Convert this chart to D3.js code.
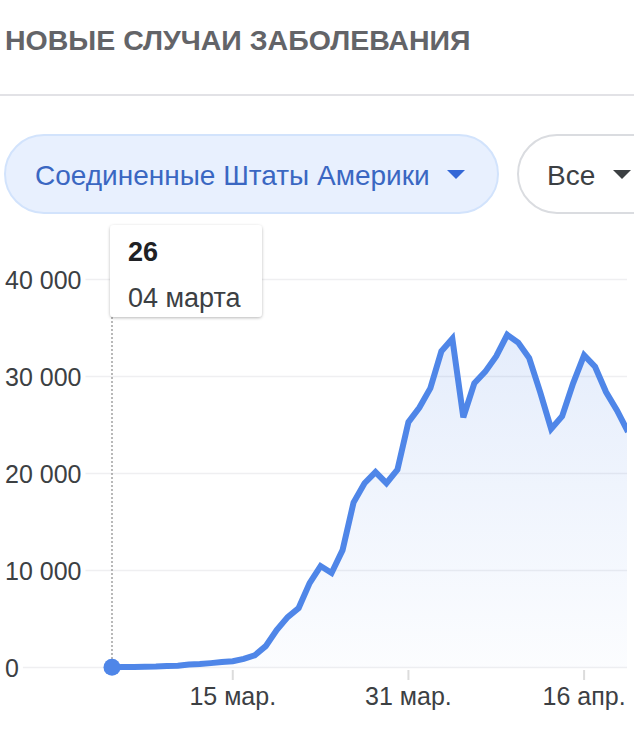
<!DOCTYPE html>
<html>
<head>
<meta charset="utf-8">
<script src="https://cdn.jsdelivr.net/npm/d3@7"></script>
<style>
  html, body { margin: 0; padding: 0; background: #fff; }
  svg { display: block; font-family: "Liberation Sans", Arial, sans-serif; }
</style>
</head>
<body>
<svg class="chart"></svg>
<script>
// Data: daily new cases, USA
var dates = ["2020-03-04","2020-03-05","2020-03-06","2020-03-07","2020-03-08","2020-03-09",
  "2020-03-10","2020-03-11","2020-03-12","2020-03-13","2020-03-14","2020-03-15","2020-03-16",
  "2020-03-17","2020-03-18","2020-03-19","2020-03-20","2020-03-21","2020-03-22","2020-03-23",
  "2020-03-24","2020-03-25","2020-03-26","2020-03-27","2020-03-28","2020-03-29","2020-03-30",
  "2020-03-31","2020-04-01","2020-04-02","2020-04-03","2020-04-04","2020-04-05","2020-04-06",
  "2020-04-07","2020-04-08","2020-04-09","2020-04-10","2020-04-11","2020-04-12","2020-04-13",
  "2020-04-14","2020-04-15","2020-04-16","2020-04-17","2020-04-18","2020-04-19","2020-04-20"];
var newCases = [26, 40, 60, 80, 100, 150,
  170, 300, 350, 450, 560, 650, 880,
  1250, 2200, 3870, 5200, 6130, 8700, 10460,
  9740, 12100, 17000, 19000, 20150, 19000, 20400,
  25300, 26800, 28800, 32600, 33900, 25800, 29300,
  30500, 32100, 34300, 33500, 31900, 28400, 24600,
  25900, 29300, 32200, 31000, 28400, 26500, 24300];
var yTicks = [0, 10000, 20000, 30000, 40000];
var xTicks = ["2020-03-15", "2020-03-31", "2020-04-16"];
var xTickLabels = ["15 мар.", "31 мар.", "16 апр."];

var title = "НОВЫЕ СЛУЧАИ ЗАБОЛЕВАНИЯ";
var countryLabel = "Соединенные Штаты Америки";
var rangeLabel = "Все";
var tipValue = "26";
var tipDate = "04 марта";

var W = 634, H = 735;
var blue = "#4f86e8";
var parse = d3.timeParse("%Y-%m-%d");
var data = dates.map(function(d, i) { return {date: parse(d), value: newCases[i]}; });

var svg = d3.select(".chart").attr("width", W).attr("height", H);

var defs = svg.append("defs");
var shadow = defs.append("filter").attr("id", "shadow")
    .attr("x", "-20%").attr("y", "-20%").attr("width", "140%").attr("height", "150%");
shadow.append("feDropShadow").attr("dx", 0).attr("dy", 1).attr("stdDeviation", 1.6)
    .attr("flood-color", "#000").attr("flood-opacity", 0.28);

var grad = defs.append("linearGradient").attr("id", "areaGrad")
    .attr("gradientUnits", "userSpaceOnUse")
    .attr("x1", 0).attr("x2", 0).attr("y1", 280).attr("y2", 668);
grad.append("stop").attr("offset", "0%").attr("stop-color", blue).attr("stop-opacity", 0.17);
grad.append("stop").attr("offset", "100%").attr("stop-color", blue).attr("stop-opacity", 0.02);

defs.append("clipPath").attr("id", "plotClip")
  .append("rect").attr("x", 0).attr("y", 0).attr("width", 627).attr("height", H);

// Header
svg.append("text")
    .attr("x", 5).attr("y", 50)
    .attr("font-size", 28.5).attr("font-weight", "bold")
    .attr("fill", "#636468")
    .text(title);

svg.append("line")
    .attr("x1", 0).attr("x2", W).attr("y1", 95).attr("y2", 95)
    .attr("stroke", "#e2e2e6").attr("stroke-width", 2);

// Chips
svg.append("rect")
    .attr("x", 5).attr("y", 135).attr("width", 493).attr("height", 78).attr("rx", 39)
    .attr("fill", "#e8f0fe").attr("stroke", "#d2e3fc").attr("stroke-width", 2);
svg.append("text")
    .attr("x", 35).attr("y", 185)
    .attr("font-size", 28).attr("fill", "#3a67c2")
    .text(countryLabel);
svg.append("path")
    .attr("d", "M447,170 L465,170 L456,179 Z")
    .attr("fill", "#3367d6");

svg.append("rect")
    .attr("x", 518).attr("y", 135).attr("width", 200).attr("height", 78).attr("rx", 39)
    .attr("fill", "#fff").attr("stroke", "#dadce0").attr("stroke-width", 2);
svg.append("text")
    .attr("x", 547).attr("y", 185)
    .attr("font-size", 28).attr("fill", "#3c4043")
    .text(rangeLabel);
svg.append("path")
    .attr("d", "M613,170 L631,170 L622,179 Z")
    .attr("fill", "#3c4043");

// Scales
var x = d3.scaleTime()
    .domain(d3.extent(data, function(d) { return d.date; }))
    .range([112, 628]);
var y = d3.scaleLinear()
    .domain([0, 40000])
    .range([667.5, 279.5]);

// Y axis: labels on the left, gridlines start after each label
var yAxis = svg.append("g").attr("class", "y axis");
yTicks.forEach(function(t) {
  var label = yAxis.append("text")
      .attr("x", 5).attr("y", y(t) + 9)
      .attr("font-size", 25).attr("fill", "#3c4043")
      .text(d3.format(",")(t).replace(/,/g, " "));
  var end = 5 + label.node().getComputedTextLength();
  yAxis.insert("line", "text")
      .attr("x1", end + 4).attr("x2", 627)
      .attr("y1", y(t)).attr("y2", y(t))
      .attr("stroke", "#efeff1").attr("stroke-width", 1.5);
});

// X axis ticks
var xAxis = svg.append("g").attr("class", "x axis");
xTicks.forEach(function(t, i) {
  var px = x(parse(t));
  xAxis.append("line")
      .attr("x1", px).attr("x2", px).attr("y1", 670).attr("y2", 680)
      .attr("stroke", "#dcdcdc").attr("stroke-width", 2);
  xAxis.append("text")
      .attr("x", px).attr("y", 705)
      .attr("text-anchor", "middle")
      .attr("font-size", 25).attr("fill", "#3c4043")
      .text(xTickLabels[i]);
});

// Area + line
var plot = svg.append("g").attr("clip-path", "url(#plotClip)");

var area = d3.area()
    .x(function(d) { return x(d.date); })
    .y0(y(0))
    .y1(function(d) { return y(d.value); });
plot.append("path").datum(data)
    .attr("d", area)
    .attr("fill", "url(#areaGrad)");

var line = d3.line()
    .x(function(d) { return x(d.date); })
    .y(function(d) { return y(d.value); });
plot.append("path").datum(data)
    .attr("d", line)
    .attr("fill", "none")
    .attr("stroke", blue)
    .attr("stroke-width", 6)
    .attr("stroke-linejoin", "miter");

// Hover marker on first point
var first = data[0];
svg.append("line")
    .attr("x1", x(first.date)).attr("x2", x(first.date))
    .attr("y1", 317).attr("y2", y(first.value) - 8)
    .attr("stroke", "#8a8a8a").attr("stroke-width", 1.2)
    .attr("stroke-dasharray", "2,2");
svg.append("circle")
    .attr("cx", x(first.date)).attr("cy", y(first.value))
    .attr("r", 8.5)
    .attr("fill", blue);

// Tooltip
var tip = svg.append("g").attr("transform", "translate(110,225)");
tip.append("rect")
    .attr("width", 152).attr("height", 92).attr("rx", 4)
    .attr("fill", "#fff").attr("filter", "url(#shadow)");
tip.append("text")
    .attr("x", 18).attr("y", 36)
    .attr("font-size", 27).attr("font-weight", "bold").attr("fill", "#202124")
    .text(tipValue);
tip.append("text")
    .attr("x", 18).attr("y", 82)
    .attr("font-size", 27).attr("fill", "#3c4043")
    .text(tipDate);
</script>
</body>
</html>
